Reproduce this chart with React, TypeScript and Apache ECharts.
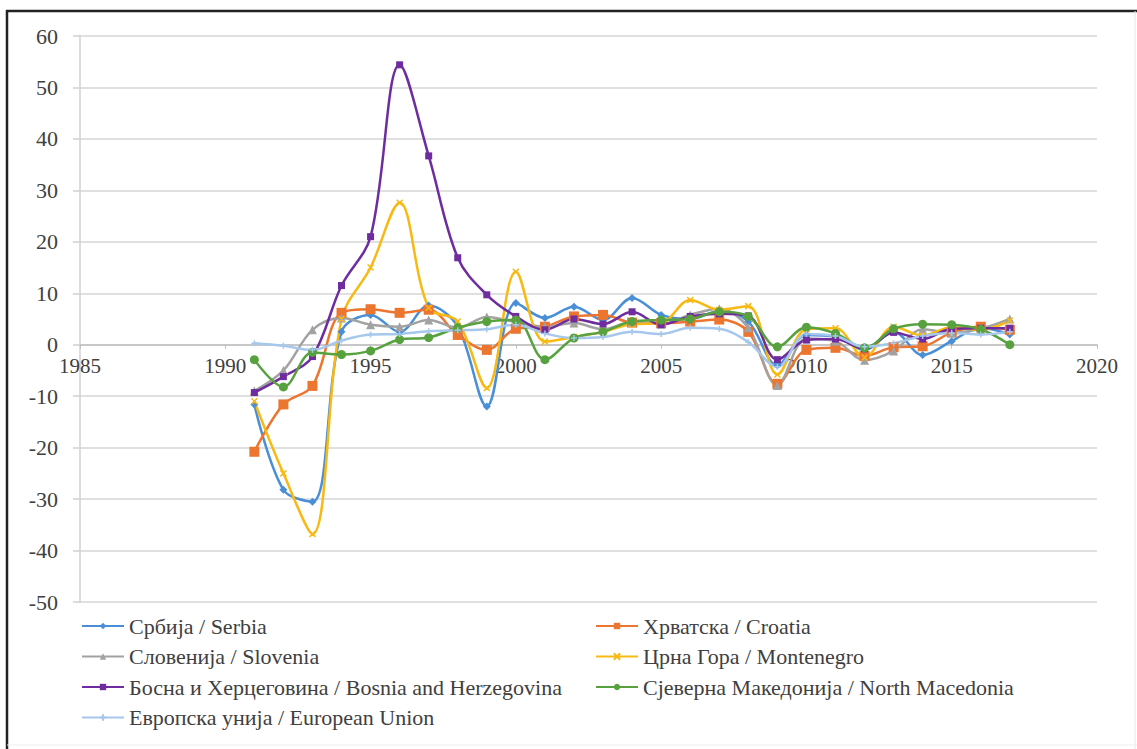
import React, { useEffect, useRef } from "react";
import * as echarts from "echarts";

const years = [1991, 1992, 1993, 1994, 1995, 1996, 1997, 1998, 1999, 2000, 2001, 2002, 2003, 2004, 2005, 2006, 2007, 2008, 2009, 2010, 2011, 2012, 2013, 2014, 2015, 2016, 2017];

const serbia = [-11.6, -28.2, -30.5, 2.5, 5.8, 2.5, 7.6, 3.5, -12.0, 8.1, 5.2, 7.4, 4.8, 9.1, 5.8, 5.0, 6.5, 4.5, -4.0, 1.9, 1.6, -1.0, 2.5, -2.0, 0.7, 3.3, 2.0];
const croatia = [-20.8, -11.6, -8.0, 6.2, 6.9, 6.2, 6.8, 1.9, -1.0, 3.1, 3.5, 5.5, 5.8, 4.3, 4.2, 4.5, 4.9, 2.5, -7.6, -1.0, -0.6, -2.2, -0.5, -0.3, 2.4, 3.5, 2.9];
const slovenia = [-9.0, -5.0, 2.9, 5.2, 3.9, 3.5, 4.8, 3.3, 5.4, 4.4, 3.5, 4.2, 3.0, 4.4, 4.0, 5.8, 7.0, 3.3, -7.9, 1.2, 0.7, -3.0, -1.2, 3.0, 2.3, 3.1, 5.0];
const montenegro = [-11.0, -25.0, -36.8, 5.0, 15.0, 27.6, 7.2, 4.5, -8.4, 14.2, 0.6, 1.5, 2.5, 4.0, 4.2, 8.7, 6.8, 7.5, -5.8, 3.0, 3.2, -2.5, 3.5, 1.8, 3.4, 2.9, 4.7];
const bosnia = [-9.3, -6.2, -2.3, 11.5, 21.0, 54.4, 36.7, 16.9, 9.7, 5.5, 2.9, 5.0, 4.0, 6.4, 3.9, 5.5, 6.0, 5.6, -2.9, 0.9, 1.1, -0.8, 2.4, 1.1, 3.1, 3.2, 3.2];
const northMacedonia = [-2.9, -8.2, -1.5, -1.9, -1.2, 1.0, 1.4, 3.3, 4.5, 4.8, -2.9, 1.3, 2.5, 4.5, 4.8, 5.0, 6.4, 5.5, -0.4, 3.4, 2.2, -0.6, 3.1, 4.0, 3.9, 3.0, 0.0];
const europeanUnion = [0.3, -0.2, -1.0, 0.8, 2.0, 2.1, 2.6, 2.8, 3.0, 3.9, 2.2, 1.3, 1.5, 2.5, 2.1, 3.3, 3.1, 0.5, -4.3, 2.1, 1.7, -0.4, 0.3, 1.7, 2.3, 2.0, 2.5];

const seriesNames = [
  "Србија / Serbia",
  "Хрватска / Croatia",
  "Словенија / Slovenia",
  "Црна Гора / Montenegro",
  "Босна и Херцеговина / Bosnia and Herzegovina",
  "Сјеверна Македонија / North Macedonia",
  "Европска унија / European Union",
];

const xTicks = { min: 1985, max: 2020, interval: 5 };
const yTicks = { min: -50, max: 60, interval: 10 };

const colors = ["#4a8fd6", "#ec7530", "#a2a2a2", "#f8b912", "#6f2c9f", "#57a23f", "#a5c8ec"];
const symbols = [
  "diamond",
  "rect",
  "triangle",
  "path://M0,0 L10,10 M10,0 L0,10 Z",
  "rect",
  "circle",
  "path://M5,0 L5,10 M0,5 L10,5 Z",
];
const symbolSizes = [8, 10, 9, 6, 7, 9, 6];

const SERIF = "'Liberation Serif', 'Times New Roman', serif";

export default function App() {
  const ref = useRef<HTMLDivElement>(null);
  useEffect(() => {
    if (!ref.current) return;
    document.body.style.margin = "0";
    const chart = echarts.init(ref.current, undefined, { renderer: "svg" });
    const allValues = [serbia, croatia, slovenia, montenegro, bosnia, northMacedonia, europeanUnion];
    const series = allValues.map((vals, i) => ({
      name: seriesNames[i],
      type: "line",
      smooth: 0.35,
      data: years.map((y, j) => [y, vals[j]]),
      symbol: symbols[i],
      symbolSize: symbolSizes[i],
      showSymbol: true,
      lineStyle: { width: 2.5, color: colors[i] },
      itemStyle: { color: colors[i], borderColor: colors[i], borderWidth: i === 3 || i === 6 ? 1.5 : 0 },
      emphasis: { disabled: true },
    }));
    const gridTop = 36;
    const gridBottom = 147;
    const plotHeight = 749 - gridTop - gridBottom;
    const zeroOffset = -(plotHeight * (0 - yTicks.min)) / (yTicks.max - yTicks.min);
    const legendText = { fontFamily: SERIF, fontSize: 22, color: "#404040", lineHeight: 20 };
    chart.setOption({
      animation: false,
      backgroundColor: "#ffffff",
      grid: { left: 80, right: 40, top: gridTop, bottom: gridBottom, containLabel: false },
      xAxis: {
        type: "value",
        position: "bottom",
        offset: zeroOffset,
        min: xTicks.min,
        max: xTicks.max,
        interval: xTicks.interval,
        axisLine: { onZero: false, lineStyle: { color: "#bfbfbf", width: 1.5 } },
        axisTick: { show: true, length: 4, lineStyle: { color: "#bfbfbf" } },
        axisLabel: { fontFamily: SERIF, fontSize: 21, color: "#404040", margin: 11, formatter: (v: number) => String(v) },
        splitLine: { show: false },
      },
      yAxis: {
        type: "value",
        min: yTicks.min,
        max: yTicks.max,
        interval: yTicks.interval,
        axisLine: { show: true, onZero: false, lineStyle: { color: "#d0d0d0", width: 1.5 } },
        axisTick: { show: true, length: 7, lineStyle: { color: "#d0d0d0", width: 1.5 } },
        axisLabel: { fontFamily: SERIF, fontSize: 22, color: "#404040", margin: 22 },
        splitLine: { show: true, lineStyle: { color: "#d6d6d6", width: 1.5 } },
      },
      legend: [
        {
          data: [seriesNames[0], seriesNames[2], seriesNames[4], seriesNames[6]],
          orient: "vertical",
          left: 76,
          top: 610,
          itemWidth: 42,
          itemHeight: 8,
          itemGap: 8.5,
          textStyle: legendText,
          selectedMode: false,
        },
        {
          data: [seriesNames[1], seriesNames[3], seriesNames[5]],
          orient: "vertical",
          left: 590,
          top: 610,
          itemWidth: 42,
          itemHeight: 8,
          itemGap: 8.5,
          textStyle: legendText,
          selectedMode: false,
        },
      ],
      graphic: [
        { type: "line", shape: { x1: 7, y1: 10, x2: 7, y2: 749 }, style: { stroke: "#222", lineWidth: 2.5 } },
        { type: "line", shape: { x1: 6, y1: 11, x2: 1137, y2: 11 }, style: { stroke: "#222", lineWidth: 2.5 } },
        { type: "line", shape: { x1: 1135, y1: 11, x2: 1135, y2: 749 }, style: { stroke: "#e6e6e6", lineWidth: 1 } },
        { type: "line", shape: { x1: 7, y1: 745, x2: 1137, y2: 745 }, style: { stroke: "#eeeeee", lineWidth: 1 } },
      ],
      series,
    });
    return () => chart.dispose();
  }, []);
  return <div ref={ref} style={{ position: "absolute", left: 0, top: 0, width: 1137, height: 749 }} />;
}
